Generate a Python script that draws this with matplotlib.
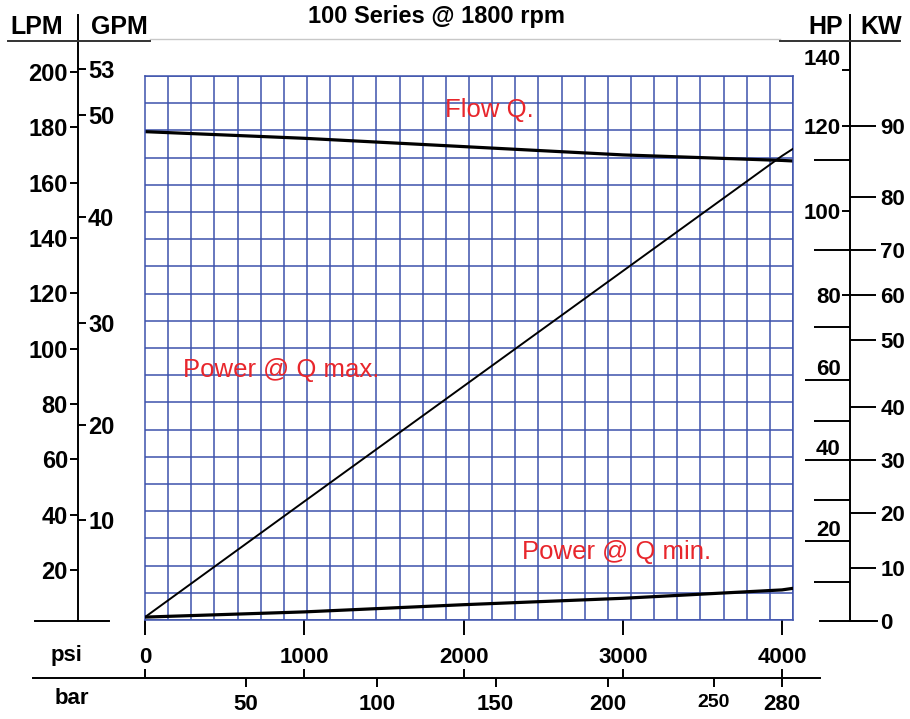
import numpy as np
import matplotlib
matplotlib.use('Agg')
import matplotlib.pyplot as plt
from matplotlib.lines import Line2D

plt.rcParams['font.family'] = ['Liberation Sans', 'DejaVu Sans']
plt.rcParams['font.weight'] = 'bold'

W, H = 910, 719

# where the scales sit in the picture (pixel zero and pixels per unit)
PSI_X0, PSI_PX = 145.0, 0.15925
LPM_Y0, LPM_PX = 625.2, 2.7665
HP_Y0, HP_PX = 620.7, 4.0
KW_Y0, KW_PX = 620.7, 5.357

# curves
flow_psi = [0, 1000, 2000, 3000, 4000, 4070]
flow_lpm = [178.4, 176.0, 173.0, 170.0, 168.0, 167.8]
qmax_psi = [0, 1000, 2000, 3000, 4000, 4070]
qmax_hp = [0.9, 29.8, 58.6, 87.4, 116.2, 118.0]
qmin_psi = [0, 1000, 2000, 3000, 4000, 4070]
qmin_hp = [0.9, 2.2, 4.0, 5.6, 7.7, 8.1]

# scales
psi_ticks = [0, 1000, 2000, 3000, 4000]
bar_labels = ['50', '100', '150', '200', '250', '280']
bar_at_psi = [634, 1455, 2202, 2907, 3573, 4000]
lpm_ticks = [20, 40, 60, 80, 100, 120, 140, 160, 180, 200]
gpm_labels = ['10', '20', '30', '40', '50', '53']
gpm_at_lpm = [38.0, 72.4, 109.1, 147.7, 184.4, 201.1]
hp_labels = ['20', '40', '60', '80', '100', '120', '140']
hp_at = [20.0, 40.2, 60.2, 81.4, 102.5, 123.7, 137.7]
hp_minor_at = [9.75, 30.2, 49.9, 73.4, 92.7, 115.2]
kw_labels = ['0', '10', '20', '30', '40', '50', '60', '70', '80', '90']
kw_at = [0, 9.78, 20.05, 30.0, 39.95, 52.4, 60.8, 69.2, 79.0, 92.3]

GRID = '#3d52ac'
RED = '#e8262c'
PT = 72.0 / 100  # points per pixel


def box(x0, y0, x1, y1):
    return [x0 / W, 1 - y1 / H, (x1 - x0) / W, (y1 - y0) / H]


def xlim_psi(x0, x1):
    return ((x0 - PSI_X0) / PSI_PX, (x1 - PSI_X0) / PSI_PX)


def ylim_px(top, bot, zero, k):
    return ((zero - bot) / k, (zero - top) / k)


def ptext(x, y, s, **kw):
    fig.text(x / W, 1 - y / H, s, **kw)


def pline(x0, x1, y0, y1, **kw):
    fig.add_artist(Line2D([x0 / W, x1 / W], [1 - y0 / H, 1 - y1 / H],
                          transform=fig.transFigure, **kw))


fig = plt.figure(figsize=(W / 100, H / 100), dpi=100)

# ---- grid area: psi vs LPM
ax = fig.add_axes(box(145, 76, 793, 620))
ax.set_xlim(*xlim_psi(145, 793))
ax.set_ylim(*ylim_px(76, 620, LPM_Y0, LPM_PX))
ax.set_xticks(np.linspace(*ax.get_xlim(), 29), minor=True)
ax.set_yticks(np.linspace(*ax.get_ylim(), 21), minor=True)
ax.set_yticks([])
ax.grid(which='minor', color=GRID, lw=1.1)
ax.tick_params(which='minor', length=0)
ax.set_xticks(psi_ticks)
ax.set_xticklabels([str(p) for p in psi_ticks])
ax.tick_params(axis='x', which='major', length=15 * PT, width=1.4, pad=12 * PT,
               labelsize=16)
for s in ax.spines.values():
    s.set_color(GRID)
    s.set_linewidth(1.1)

ax.plot(flow_psi, flow_lpm, color='black', lw=2.3, solid_capstyle='butt')

axp = ax.twinx()
axp.set_ylim(*ylim_px(76, 620, HP_Y0, HP_PX))
axp.set_axis_off()
axp.plot(qmax_psi, qmax_hp, color='black', lw=1.4)
axp.plot(qmin_psi, qmin_hp, color='black', lw=2.3, solid_capstyle='butt')

red = dict(color=RED, fontsize=18.5, fontweight='normal', va='center',
           transform=ax.transAxes)
ax.text((445 - 145) / 648, 1 - (110 - 76) / 544, 'Flow Q.', **red)
ax.text((183 - 145) / 648, 1 - (370 - 76) / 544, 'Power @ Q max.', **red)
ax.text((522 - 145) / 648, 1 - (552 - 76) / 544, 'Power @ Q min.', **red)

# ---- left LPM / GPM scale
axl = fig.add_axes(box(35, 15, 109, 621))
axl.set_xlim(0, 1)
axl.set_ylim(*ylim_px(15, 621, LPM_Y0, LPM_PX))
axl.patch.set_visible(False)
axl.spines['top'].set_visible(False)
axl.spines['right'].set_visible(False)
axl.spines['left'].set_position(('axes', (78 - 35) / 74))
axl.spines['left'].set_linewidth(1.4)
axl.spines['bottom'].set_linewidth(1.4)
axl.set_xticks([])
axl.set_yticks(lpm_ticks)
axl.set_yticklabels([str(v) for v in lpm_ticks])
axl.tick_params(axis='y', direction='out', length=8 * PT, width=1.4, pad=1.5,
                labelsize=17)

axg = axl.twinx()
axg.set_ylim(axl.get_ylim())
for s in axg.spines.values():
    s.set_visible(False)
axg.spines['right'].set_position(('axes', (78 - 35) / 74))
axg.set_yticks(gpm_at_lpm)
axg.set_yticklabels(gpm_labels)
axg.tick_params(axis='y', direction='out', length=8 * PT, width=1.4, pad=1.5,
                labelsize=17)

# ---- right HP / KW scale
axr = fig.add_axes(box(820, 15, 877, 621))
axr.set_xlim(0, 1)
axr.set_ylim(*ylim_px(15, 621, HP_Y0, HP_PX))
axr.patch.set_visible(False)
axr.spines['top'].set_visible(False)
axr.spines['right'].set_visible(False)
axr.spines['left'].set_position(('axes', 30 / 57))
axr.spines['left'].set_linewidth(1.4)
axr.spines['bottom'].set_linewidth(1.4)
axr.set_xticks([])
axr.set_yticks(hp_at)
axr.set_yticklabels(hp_labels)
axr.set_yticks(hp_minor_at, minor=True)
axr.tick_params(axis='y', which='major', direction='out', length=8 * PT,
                width=1.4, pad=1, labelsize=16)
axr.tick_params(axis='y', which='minor', direction='out', length=36 * PT,
                width=1.4)
for t, lab in zip(axr.yaxis.get_major_ticks(), hp_labels):
    if lab in ('20', '40', '60'):
        t.tick1line.set_markersize(45 * PT)
        t.label1.set_va('bottom')
    if lab == '140':
        t.label1.set_va('bottom')

axk = axr.twinx()
axk.set_ylim(*ylim_px(15, 621, KW_Y0, KW_PX))
for s in axk.spines.values():
    s.set_visible(False)
axk.spines['right'].set_position(('axes', 30 / 57))
axk.set_yticks(kw_at)
axk.set_yticklabels(kw_labels)
axk.tick_params(axis='y', direction='out', length=26 * PT, width=1.4, pad=3,
                labelsize=16)

# ---- bar scale under the psi scale
axb = fig.add_axes(box(33, 677, 820, 678))
axb.set_xlim(*xlim_psi(33, 820))
axb.patch.set_visible(False)
for k in ('top', 'left', 'right'):
    axb.spines[k].set_visible(False)
axb.spines['bottom'].set_linewidth(1.4)
axb.set_yticks([])
axb.set_xticks(bar_at_psi)
axb.set_xticklabels(bar_labels)
axb.tick_params(axis='x', direction='out', length=9 * PT, width=1.4,
                pad=7 * PT, labelsize=16)
bt = axb.xaxis.get_major_ticks()
bt[3].tick1line.set_visible(False)
bt[4].label1.set_fontsize(14)

axbt = axb.twiny()
axbt.set_xlim(axb.get_xlim())
for s in axbt.spines.values():
    s.set_visible(False)
axbt.set_yticks([])
axbt.set_xticks(psi_ticks)
axbt.tick_params(axis='x', top=True, bottom=False, labeltop=False,
                 direction='out', length=8 * PT, width=1.4)

# ---- headers
ptext(437, 17, '100 Series @ 1800 rpm', fontsize=17, ha='center', va='center')
hdr = dict(fontsize=18, ha='center', va='center')
ptext(36.5, 27, 'LPM', **hdr)
ptext(119.5, 27, 'GPM', **hdr)
ptext(826, 27, 'HP', **hdr)
ptext(881, 27, 'KW', **hdr)
ptext(67, 655, 'psi', fontsize=16, ha='center', va='center')
ptext(72, 698, 'bar', fontsize=16, ha='center', va='center')
pline(150, 780, 39, 39, color='#c8c8c8', lw=1.0)
pline(8, 150, 41, 41, color='#333333', lw=1.4)
pline(780, 900, 41, 41, color='#333333', lw=1.4)

fig.savefig('out.png', dpi=100)
